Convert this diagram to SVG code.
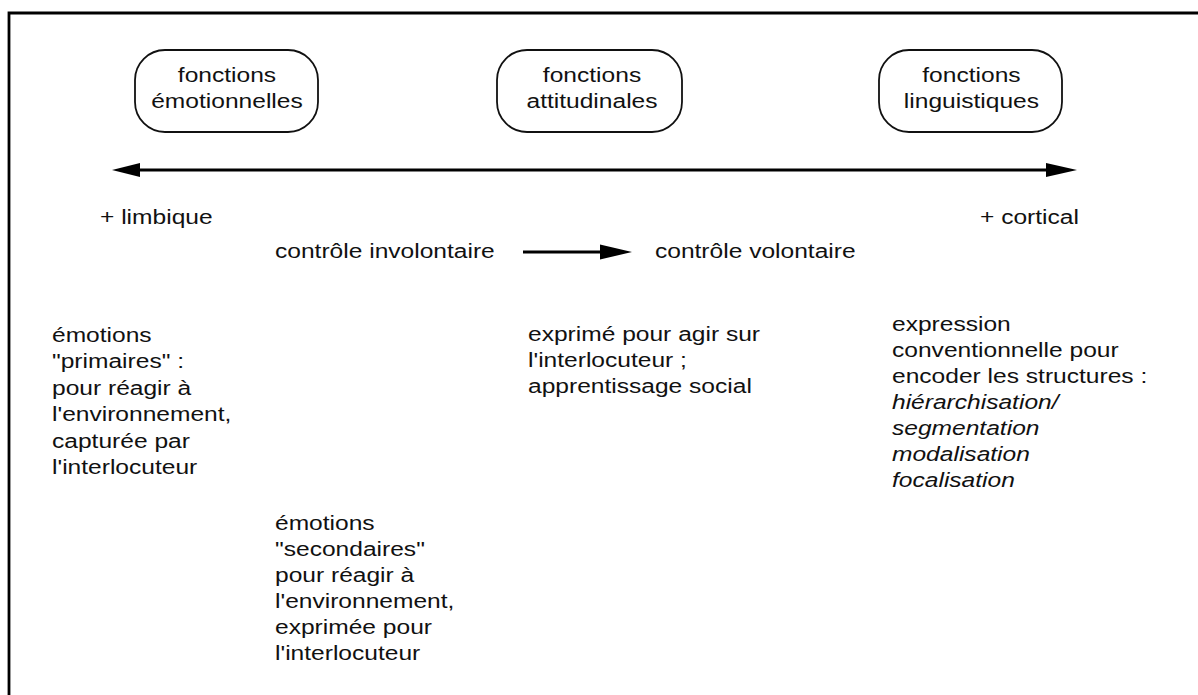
<svg xmlns="http://www.w3.org/2000/svg" width="1198" height="695" viewBox="0 0 1198 695">
<style>
text{font-family:"Liberation Sans",Arial,sans-serif;font-size:21px;fill:#111}
.c{text-anchor:middle}
.i{font-style:italic}
.box{fill:#fff;stroke:#111;stroke-width:1.8}
.ln{stroke:#000;stroke-width:2.8;fill:none}
.hd{fill:#000}
</style>
<rect width="1198" height="695" fill="#fff"/>
<path d="M9,695 V13 H1198" fill="none" stroke="#000" stroke-width="2.8"/>
<g id="connectors">
<line class="ln" x1="138" y1="170" x2="1050" y2="170"/>
<polygon class="hd" points="112,170 140,163 140,177"/>
<polygon class="hd" points="1077,170 1046,163 1046,177"/>
<line class="ln" x1="523" y1="252" x2="605" y2="252"/>
<polygon class="hd" points="632,252 600,244.5 600,259.5"/>
</g>
<g id="n-emotionnelles">
<rect class="box" x="135" y="50" width="183" height="82" rx="30"/>
<g transform="scale(1.17,1)"><text class="c" x="194.0" y="82">fonctions</text><text class="c" x="194.0" y="108.5">émotionnelles</text></g>
</g>
<g id="n-attitudinales">
<rect class="box" x="497" y="50" width="185" height="82" rx="30"/>
<g transform="scale(1.17,1)"><text class="c" x="506.0" y="82">fonctions</text><text class="c" x="506.0" y="108.5">attitudinales</text></g>
</g>
<g id="n-linguistiques">
<rect class="box" x="879" y="50" width="183" height="82" rx="30"/>
<g transform="scale(1.17,1)"><text class="c" x="830.3" y="82">fonctions</text><text class="c" x="830.3" y="108.5">linguistiques</text></g>
</g>
<g id="labels" transform="scale(1.17,1)">
<text x="85.47" y="224">+ limbique</text>
<text x="837.6" y="224">+ cortical</text>
<text x="235.04" y="258">contrôle involontaire</text>
<text x="559.8" y="258">contrôle volontaire</text>
</g>
<g id="t-primaires" transform="scale(1.17,1)">
<text x="44.44" y="342">émotions</text>
<text x="44.44" y="368.4">"primaires" :</text>
<text x="44.44" y="394.8">pour réagir à</text>
<text x="44.44" y="421.2">l'environnement,</text>
<text x="44.44" y="447.6">capturée par</text>
<text x="44.44" y="474">l'interlocuteur</text>
</g>
<g id="t-secondaires" transform="scale(1.17,1)">
<text x="235.04" y="530">émotions</text>
<text x="235.04" y="556">"secondaires"</text>
<text x="235.04" y="582">pour réagir à</text>
<text x="235.04" y="608">l'environnement,</text>
<text x="235.04" y="634">exprimée pour</text>
<text x="235.04" y="660">l'interlocuteur</text>
</g>
<g id="t-attitudinales" transform="scale(1.17,1)">
<text x="451.28" y="341.5">exprimé pour agir sur</text>
<text x="451.28" y="367.5">l'interlocuteur ;</text>
<text x="451.28" y="393.5">apprentissage social</text>
</g>
<g id="t-linguistiques" transform="scale(1.17,1)">
<text x="762.4" y="331.5">expression</text>
<text x="762.4" y="357.5">conventionnelle pour</text>
<text x="762.4" y="383.5">encoder les structures :</text>
<text class="i" x="762.4" y="409.5">hiérarchisation/</text>
<text class="i" x="762.4" y="435.5">segmentation</text>
<text class="i" x="762.4" y="461.5">modalisation</text>
<text class="i" x="762.4" y="487.5">focalisation</text>
</g>
</svg>
